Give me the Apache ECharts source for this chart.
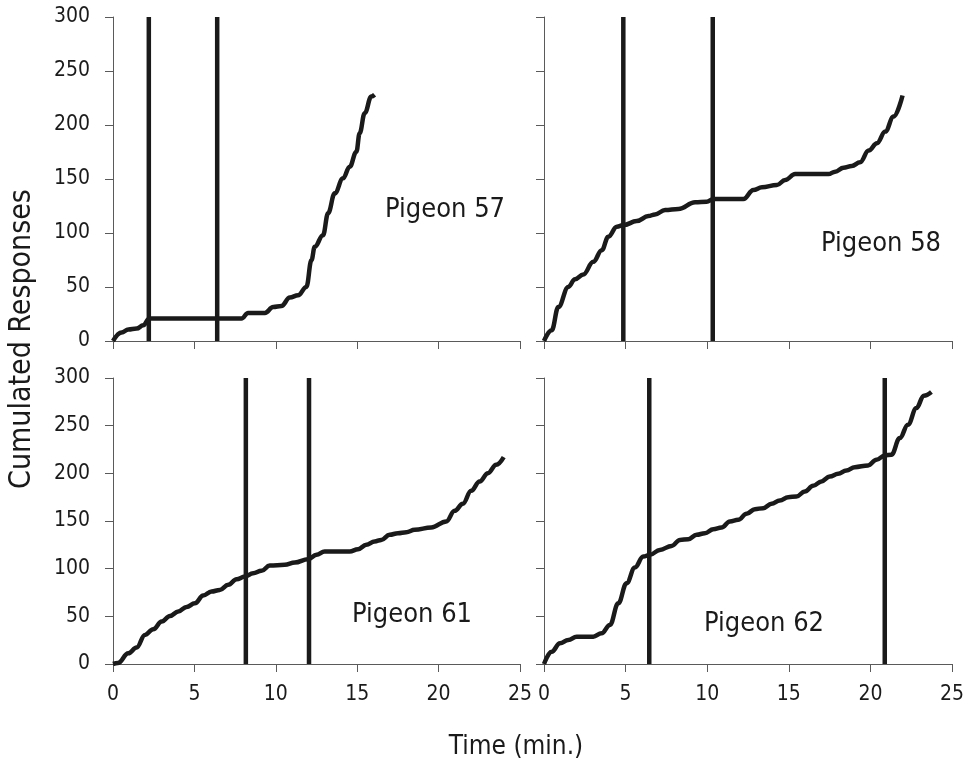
<!DOCTYPE html>
<html>
<head>
<meta charset="utf-8">
<title>Cumulated Responses</title>
<script src="https://cdn.jsdelivr.net/npm/echarts@6/dist/echarts.min.js"></script>
<style>
    html, body { margin: 0; padding: 0; background: #fff; }
    #main { width: 970px; height: 764px; }
</style>
</head>
<body>
<div id="main"></div>
<script>
// cumulative record per pigeon, [time (min.), responses]
const p57 = [[0, 0], [0.53, 7.8], [0.94, 10.6], [1.45, 11.5], [1.86, 14.6], [2.23, 20.8], [7.89, 20.8], [8.3, 26], [9.33, 26],
    [9.84, 31.5], [10.35, 32.5], [10.86, 40.2], [11.37, 42.4], [11.88, 50.1], [12.19, 74.9], [12.39, 87.2], [12.9, 98],
    [13.21, 118.2], [13.62, 136.7], [14.13, 150.6], [14.54, 161.4], [14.95, 175.3], [15.15, 192.4], [15.46, 210.9],
    [15.87, 226.4], [16.07, 228]]
const p58 = [[0, 0], [0.47, 9.9], [0.88, 31.5], [1.49, 50.1], [1.9, 57.2], [2.41, 61.6], [3.02, 73.3], [3.54, 84.1],
    [3.94, 96.5], [4.46, 105.8], [4.87, 107.3], [5.68, 111], [6.4, 115.7], [6.8, 117.2], [7.42, 121.2], [8.24, 122.2],
    [9.26, 128.4], [9.97, 129], [10.38, 131.4], [12.22, 131.4], [12.83, 139.8], [13.35, 142.3], [14.27, 144.4],
    [14.78, 149.1], [15.39, 154.6], [17.43, 154.6], [17.84, 156.8], [18.35, 160.5], [18.86, 162], [19.37, 165.5],
    [19.89, 176.3], [20.4, 183.1], [20.91, 193.9], [21.42, 207.8], [21.97, 227.3]]
const p61 = [[0, 0], [0.3, 1], [0.94, 11.2], [1.45, 17.2], [1.96, 30.5], [2.47, 36.4], [2.99, 44.5], [3.5, 50.4], [4.01, 55],
    [4.52, 59.9], [5.03, 63.7], [5.54, 71.8], [6.05, 76], [6.56, 77.7], [7.08, 83], [7.59, 88.9], [8.1, 91.7], [8.61, 95.2],
    [9.12, 97.7], [9.63, 103.3], [10.55, 104], [11.17, 106.4], [11.98, 109.9], [12.5, 114.5], [13, 118], [14.54, 118],
    [15.05, 120.4], [15.56, 125], [16.07, 128.5], [16.48, 130.2], [16.99, 135.5], [17.5, 137.2], [18.02, 138.3],
    [18.53, 140.7], [19.55, 143.2], [20.47, 149.5], [20.98, 160.7], [21.49, 168], [22, 181.7], [22.52, 191.5],
    [23.03, 200.2], [23.54, 209], [24, 217]]
const p62 = [[0, 0], [0.47, 12.9], [0.98, 21.7], [1.49, 25.2], [2, 28.7], [3.02, 28.7], [3.53, 32.2], [4.04, 41], [4.55, 63.7],
    [5.06, 84.7], [5.57, 101.2], [6.08, 112.7], [6.49, 114.5], [7.1, 119.7], [7.82, 123.9], [8.33, 130.2], [8.84, 130.9],
    [9.35, 135.5], [9.86, 137.2], [10.37, 141.4], [10.88, 143.2], [11.39, 149.5], [11.9, 151.2], [12.41, 157.5],
    [12.92, 162.4], [13.43, 163.5], [13.94, 168], [14.45, 171.5], [14.96, 175], [15.47, 175.7], [15.98, 181],
    [16.49, 186.9], [17, 191.5], [17.51, 196.7], [18.02, 199.5], [18.53, 203], [19.04, 206.5], [19.86, 208.3],
    [20.37, 214.2], [20.88, 218.8], [21.29, 219.5], [21.8, 237], [22.3, 251], [22.82, 268.5], [23.27, 281.4], [23.74, 285.3]]

// phase change markers (min.)
const phases57 = [2.2, 6.4]
const phases58 = [4.86, 10.34]
const phases61 = [8.16, 12.04]
const phases62 = [6.45, 20.88]

const pigeonNames = ['Pigeon 57', 'Pigeon 58', 'Pigeon 61', 'Pigeon 62']
const xMin = 0, xMax = 25, xStep = 5
const yMin = 0, yMax = 300, yStep = 50

const FONT = '"DejaVu Sans Condensed", "Noto Sans", sans-serif'
const INK = '#1a1a1a'
const AXIS = '#5a5a5a'

const records = [p57, p58, p61, p62]
const phases = [phases57, phases58, phases61, phases62]

// panel boxes: left col / right col, top row / bottom row
const grids = [
    { left: 113, top: 17, width: 407, height: 324 },
    { left: 544, top: 17, width: 408, height: 324 },
    { left: 113, top: 378, width: 407, height: 286 },
    { left: 544, top: 378, width: 408, height: 286 }
]
// where the "Pigeon xx" labels sit
const namePos = [[385, 210], [821, 244], [352, 615], [704, 624]]

const xAxes = grids.map((g, i) => ({
    type: 'value',
    gridIndex: i,
    min: xMin,
    max: xMax,
    interval: xStep,
    axisLine: { lineStyle: { color: AXIS, width: 1 } },
    axisTick: { length: 8, lineStyle: { color: AXIS } },
    axisLabel: {
        show: i >= 2,
        margin: 20,
        color: INK,
        fontSize: 21,
        fontFamily: FONT,
        showMinLabel: true,
        showMaxLabel: true
    },
    splitLine: { show: false }
}))

const yAxes = grids.map((g, i) => ({
    type: 'value',
    gridIndex: i,
    min: yMin,
    max: yMax,
    interval: yStep,
    axisLine: { show: true, lineStyle: { color: AXIS, width: 1 } },
    axisTick: { show: true, length: 8, lineStyle: { color: AXIS } },
    axisLabel: {
        show: i % 2 === 0,
        margin: 23,
        color: INK,
        fontSize: 21,
        fontFamily: FONT
    },
    splitLine: { show: false }
}))

const series = []
records.forEach((rec, i) => {
    series.push({
        type: 'line',
        xAxisIndex: i,
        yAxisIndex: i,
        data: rec,
        smooth: 0.4,
        smoothMonotone: 'x',
        showSymbol: false,
        lineStyle: { color: INK, width: 4.5 },
        z: 3
    })
    phases[i].forEach(t => {
        series.push({
            type: 'line',
            xAxisIndex: i,
            yAxisIndex: i,
            data: [[t, yMin], [t, yMax]],
            showSymbol: false,
            lineStyle: { color: INK, width: 4.5 },
            z: 2
        })
    })
})

const graphic = pigeonNames.map((name, i) => ({
    type: 'text',
    x: namePos[i][0],
    y: namePos[i][1],
    style: { text: name, fontSize: 27, fontFamily: FONT, fill: INK, align: 'left', verticalAlign: 'middle' }
}))
graphic.push({
    type: 'text',
    x: 22,
    y: 339,
    rotation: Math.PI / 2,
    style: { text: 'Cumulated Responses', fontSize: 30, fontFamily: FONT, fill: INK, align: 'center', verticalAlign: 'middle' }
})
graphic.push({
    type: 'text',
    x: 516,
    y: 747,
    style: { text: 'Time (min.)', fontSize: 26, fontFamily: FONT, fill: INK, align: 'center', verticalAlign: 'middle' }
})

const myChart = echarts.init(document.getElementById('main'))
myChart.setOption({
    animation: false,
    backgroundColor: '#fff',
    grid: grids,
    xAxis: xAxes,
    yAxis: yAxes,
    series: series,
    graphic: graphic
})
window.onresize = myChart.resize
</script>
</body>
</html>
